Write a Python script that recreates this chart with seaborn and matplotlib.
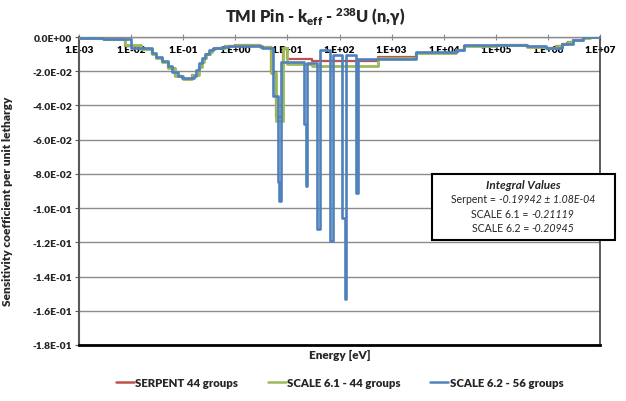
import numpy as np
import pandas as pd
import seaborn as sns
import matplotlib
matplotlib.use("Agg")
import matplotlib.pyplot as plt
from matplotlib.ticker import FixedLocator, FuncFormatter, NullLocator
from matplotlib.lines import Line2D
from matplotlib.patches import Rectangle
from matplotlib.offsetbox import TextArea, HPacker, VPacker, AnchoredOffsetbox

# ---------------- data ----------------
series_names = ["SERPENT 44 groups", "SCALE 6.1 - 44 groups", "SCALE 6.2 - 56 groups"]
series_colors = ["#C0504D", "#9BBB59", "#4F81BD"]

# 44-group energy boundaries [eV] (axis starts at 1e-3)
edges_44 = [1e-3, 3e-3, 7.5e-3, 1.53e-2, 2.5e-2, 3e-2, 4e-2, 5e-2, 7e-2, 0.1, 0.15, 0.2,
            0.225, 0.25, 0.275, 0.325, 0.35, 0.375, 0.4, 0.625, 1.0, 1.77, 3.0, 4.75,
            6.0, 8.1, 10.0, 10.125, 30, 100, 550, 3000, 1.7e4, 2.5e4, 1e5, 4e5, 9e5,
            1.4e6, 1.85e6, 2.354e6, 2.479e6, 3e6, 4.8e6, 6.434e6, 8.187e6, 2e7]

serpent_vals = [-0.0004, -0.0012, -0.0050, -0.0070, -0.0098, -0.0123, -0.0148, -0.0182,
                -0.0226, -0.0244, -0.0220, -0.0176, -0.0146, -0.0124, -0.0100, -0.0085,
                -0.0076, -0.0071, -0.0063, -0.0055, -0.0047, -0.0045, -0.0057, -0.0205,
                -0.0470, -0.0062, -0.0128, -0.0128, -0.0140, -0.0140, -0.0118, -0.0095,
                -0.0075, -0.0050, -0.0045, -0.0058, -0.0062, -0.0055, -0.0040, -0.0035,
                -0.0030, -0.0016, -0.0005, -0.0002, 0.0]

scale61_vals = [-0.0003, -0.0010, -0.0048, -0.0068, -0.0097, -0.0122, -0.0148, -0.0182,
                -0.0228, -0.0248, -0.0222, -0.0178, -0.0148, -0.0125, -0.0100, -0.0085,
                -0.0076, -0.0071, -0.0063, -0.0055, -0.0046, -0.0044, -0.0058, -0.0210,
                -0.0490, -0.0062, -0.0160, -0.0160, -0.0168, -0.0168, -0.0120, -0.0095,
                -0.0075, -0.0050, -0.0045, -0.0058, -0.0062, -0.0055, -0.0040, -0.0035,
                -0.0030, -0.0016, -0.0005, -0.0002, 0.0]

# 56-group structure
edges_56 = [1e-3, 2.9e-3, 1.0e-2, 0.025, 0.030, 0.040, 0.050, 0.062, 0.078, 0.095, 0.16,
            0.18, 0.20, 0.23, 0.265, 0.31, 0.38, 0.55, 0.75, 1.15, 3.3, 5.3, 6.6, 7.0,
            7.55, 21.2, 22.7, 24.3, 37.2, 43, 67, 76, 112, 125, 133, 203, 223, 3000,
            1.7e4, 2.5e4, 1e5, 4e5, 9e5, 1.85e6, 3e6, 4.8e6, 2e7]

scale62_vals = [-0.0008, -0.0013, -0.0066, -0.0095, -0.0118, -0.0143, -0.0171, -0.0206,
                -0.0225, -0.0238, -0.0225, -0.0190, -0.0152, -0.0123, -0.0099, -0.0076,
                -0.0066, -0.0060, -0.0053, -0.0050, -0.0062, -0.0346, -0.0850, -0.0960,
                -0.0146, -0.0510, -0.0870, -0.0150, -0.1120, -0.0078, -0.1190, -0.0103,
                -0.1060, -0.1530, -0.0103, -0.0910, -0.0128, -0.0090, -0.0075, -0.0045,
                -0.0045, -0.0052, -0.0064, -0.0040, -0.0015, 0.0]

x_ticks = [1e-3, 1e-2, 1e-1, 1e0, 1e1, 1e2, 1e3, 1e4, 1e5, 1e6, 1e7]
y_ticks = [0.0, -0.02, -0.04, -0.06, -0.08, -0.10, -0.12, -0.14, -0.16, -0.18]

integral_lines = [("Serpent = ", "-0.19942 \u00b1 1.08E-04"),
                  ("SCALE 6.1 = ", "-0.21119"),
                  ("SCALE 6.2 = ", "-0.20945")]

# ---------------- style ----------------
sns.set_style("white")
FONT = ["Lato", "DejaVu Sans"]
BOLD = "heavy"
plt.rcParams["font.family"] = FONT
plt.rcParams["font.weight"] = BOLD
plt.rcParams["mathtext.fontset"] = "custom"
plt.rcParams["mathtext.rm"] = "Lato:heavy"
plt.rcParams["mathtext.bf"] = "Lato:heavy"
plt.rcParams["mathtext.it"] = "Lato:italic"


def step_frame(edges, vals, name):
    return pd.DataFrame({"E": edges, "S": list(vals) + [vals[-1]], "series": name})


frames = [step_frame(edges_44, serpent_vals, series_names[0]),
          step_frame(edges_44, scale61_vals, series_names[1]),
          step_frame(edges_56, scale62_vals, series_names[2])]

W, H = 626, 402
fig = plt.figure(figsize=(W / 100, H / 100), dpi=100)
ax = fig.add_axes([79 / W, 1 - 346 / H, 521 / W, 308 / H])

lws = [1.6, 2.0, 1.9]
for d, c, lw in zip(frames, series_colors, lws):
    sns.lineplot(data=d, x="E", y="S", color=c, linewidth=lw, estimator=None,
                 sort=False, drawstyle="steps-post", ax=ax, legend=False, zorder=3)

ax.set_xscale("log")
ax.set_xlim(1e-3, 1e7)
ax.set_ylim(-0.18, 0.0)

# grid
ax.set_axisbelow(True)
ax.yaxis.grid(True, color="#8c8c8c", linewidth=1.0)
ax.xaxis.grid(False)

# spines
ax.spines["top"].set_color("#8c8c8c")
ax.spines["top"].set_linewidth(1.0)
ax.spines["left"].set_color("#595959")
ax.spines["left"].set_linewidth(1.5)
ax.spines["bottom"].set_color("black")
ax.spines["bottom"].set_linewidth(2.0)
ax.spines["right"].set_color("#404040")
ax.spines["right"].set_linewidth(1.2)

# x axis: labels at the top, just under the zero line
ax.xaxis.set_major_locator(FixedLocator(x_ticks))
ax.xaxis.set_minor_locator(NullLocator())
ax.xaxis.set_major_formatter(FuncFormatter(
    lambda v, p: "1.E{:+03d}".format(int(round(np.log10(v))))))
ax.xaxis.tick_top()
ax.tick_params(axis="x", which="major", direction="inout", length=5, width=0.8,
               color="#8c8c8c", pad=-14.5, labelsize=7.2, labelcolor="black")

# y axis
ax.yaxis.set_major_locator(FixedLocator(y_ticks))
ax.yaxis.set_major_formatter(FuncFormatter(lambda v, p: "{:.1E}".format(round(v, 4) + 0.0)))
ax.tick_params(axis="y", direction="out", length=3, width=0.8, color="#595959",
               pad=2, labelsize=7.4, left=True)

ax.set_xlabel("Energy [eV]", fontsize=8.5, fontweight=BOLD, labelpad=3)
ax.xaxis.set_label_position("bottom")
ax.set_ylabel("Sensitivity coefficient per unit lethargy", fontsize=8.6, fontweight=BOLD)
ax.yaxis.set_label_coords(-0.127, 0.47)

fig.text(315 / W, 1 - 17 / H,
         r"TMI Pin - k$_{\mathbf{eff}}$ - $^{\mathbf{238}}$U (n,γ)",
         ha="center", va="center", fontsize=11.8, fontweight=BOLD)

# legend
handles = [Line2D([0], [0], color=c, lw=1.8) for c in series_colors]
ax.legend(handles, series_names, loc="center", bbox_to_anchor=(0.5, -0.123), ncol=3,
          frameon=False, handlelength=1.6, handletextpad=0.1,
          columnspacing=2.6, prop={"weight": BOLD, "size": 8.2})

# integral values box
fig.add_artist(Rectangle((432 / W, 1 - 241 / H), 183 / W, 66 / H,
                         transform=fig.transFigure, facecolor="white",
                         edgecolor="black", linewidth=1.5, zorder=3))
rows = [TextArea("Integral Values", textprops=dict(fontsize=8.5, fontweight="bold",
                                                   style="italic", family=FONT))]
for a, b in integral_lines:
    rows.append(HPacker(children=[
        TextArea(a, textprops=dict(fontsize=7.6, fontweight="normal", family=FONT)),
        TextArea(b, textprops=dict(fontsize=7.6, fontweight="normal", style="italic",
                                   family=FONT))], sep=0, pad=0, align="baseline"))
vp = VPacker(children=rows, align="center", sep=2.6, pad=0)
fig.add_artist(AnchoredOffsetbox(loc="center", child=vp, pad=0, borderpad=0,
                                 bbox_to_anchor=(523 / W, 1 - 207 / H),
                                 bbox_transform=fig.transFigure, frameon=False,
                                 zorder=4))

fig.savefig("out.png", dpi=100)
